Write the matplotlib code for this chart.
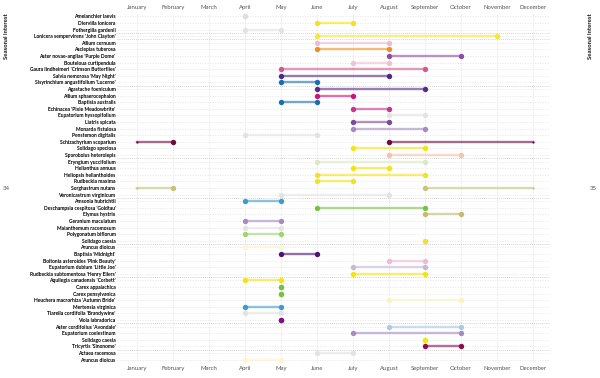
import matplotlib
matplotlib.use("Agg")
import matplotlib.pyplot as plt

months = ["January", "February", "March", "April", "May", "June", "July",
          "August", "September", "October", "November", "December"]

plants = [
    "Amelanchier laevis", "Diervilla lonicera", "Fothergilla gardenii",
    "Lonicera sempervirens 'John Clayton'", "Allium cernuum", "Asclepias tuberosa",
    "Aster novae-angliae 'Purple Dome'", "Bouteloua curtipendula",
    "Gaura lindheimeri 'Crimson Butterflies'", "Salvia nemorosa 'May Night'",
    "Sisyrinchium angustifolium 'Lucerne'", "Agastache foeniculum",
    "Allium sphaerocephalon", "Baptisia australis", "Echinacea 'Pixie Meadowbrite'",
    "Eupatorium hyssopifolium", "Liatris spicata", "Monarda fistulosa",
    "Penstemon digitalis", "Schizachyrium scoparium", "Solidago speciosa",
    "Sporobolus heterolepis", "Eryngium yuccifolium", "Helianthus annuus",
    "Heliopsis helianthoides", "Rudbeckia maxima", "Sorghastrum nutans",
    "Veronicastrum virginicum", "Amsonia hubrichtii", "Deschampsia cespitosa 'Goldtau'",
    "Elymus hystrix", "Geranium maculatum", "Maianthemum racemosum",
    "Polygonatum biflorum", "Solidago caesia", "Aruncus dioicus",
    "Baptisia 'Midnight'", "Boltonia asteroides 'Pink Beauty'",
    "Eupatorium dubium 'Little Joe'", "Rudbeckia subtomentosa 'Henry Eilers'",
    "Aquilegia canadensis 'Corbett'", "Carex appalachica", "Carex pensylvanica",
    "Heuchera macrorhiza 'Autumn Bride'", "Mertensia virginica",
    "Tiarella cordifolia 'Brandywine'", "Viola labradorica",
    "Aster cordifolius 'Avondale'", "Eupatorium coelestinum", "Solidago caesia",
    "Tricyrtis 'Sinonome'", "Actaea racemosa", "Aruncus dioicus",
]

# first and last month of interest (1 = January); start > end wraps over the new year
start = [4, 6, 4, 6, 6, 6, 8, 7, 5, 5, 5, 6, 6, 5, 7, 8, 7, 7, 4, 8, 7, 8, 6, 7, 6, 6, 9,
         5, 4, 6, 9, 4, 4, 4, 9, 4, 5, 8, 7, 7, 4, 5, 5, 8, 4, 4, 5, 8, 7, 9, 9, 6, 4]
end = [4, 7, 5, 11, 8, 8, 10, 8, 9, 8, 6, 9, 7, 6, 8, 9, 8, 9, 6, 2, 9, 10, 9, 8, 9, 7, 2,
       8, 5, 9, 10, 5, 5, 5, 9, 5, 6, 9, 9, 9, 5, 5, 5, 10, 5, 5, 5, 10, 10, 9, 10, 7, 5]

colors = [
    "#dedede", "#f5e31a", "#e3e3e3", "#f7e73a", "#f2b8d4", "#f0901e", "#8a4fa5",
    "#f5bfd6", "#d9558b", "#4b2a86", "#1b6fb0", "#5a2a86", "#c8167f", "#1b6fb0",
    "#c2378f", "#e3e3e3", "#7d4b9e", "#a48bc4", "#e3e3e3", "#6a0d3d", "#f5e31a",
    "#f7c2aa", "#dbe8c4", "#f5e31a", "#f5e31a", "#f5e31a", "#c5c47a", "#e3e3e3",
    "#3b9bd6", "#7ac043", "#c4bb72", "#a48bc4", "#e3e3e3", "#9ed47a", "#f5e31a",
    "#fbf6cf", "#4a1670", "#f2b8d4", "#c8b6db", "#f5e31a", "#f5e31a", "#7ac043",
    "#7ac043", "#fbf3c4", "#3b9bd6", "#e3e3e3", "#7b1577", "#a9cbe8", "#a48bc4",
    "#f5e31a", "#8c0a50", "#e3e3e3", "#fbf6cf",
]

# rows after which a darker separator line is drawn
separators = [2.5, 3.5, 10.5, 21.5, 27.5, 34.5, 39.5, 46.5, 50.5]

fig = plt.figure(figsize=(6, 3.78), dpi=100)
ax = fig.add_axes([117 / 600, 1 - 363 / 378, 433 / 600, 350 / 378])

n = len(plants)
rows = list(range(n))

for m in range(1, 13):
    ax.axvline(m, color="#e4e4e4", lw=0.6, ls=(0, (1.5, 1.5)), zorder=0)
for r in rows:
    ax.axhline(r, color="#e8e8e8", lw=0.6, ls=(0, (1.5, 1.5)), zorder=0)
for s in separators:
    ax.axhline(s, color="#c4c4c4", lw=0.6, ls=(0, (1, 1.5)), zorder=0)

dot = 15
small = 2.5
for r, s, e, c in zip(rows, start, end, colors):
    if s <= e:
        ax.plot([s, e], [r, r], color=c, lw=1.7, alpha=0.6, solid_capstyle="butt", zorder=2)
        ax.scatter([s, e], [r, r], s=dot, color=c, lw=0, zorder=3)
    else:
        ax.plot([s, 12], [r, r], color=c, lw=1.7, alpha=0.6, zorder=2)
        ax.plot([1, e], [r, r], color=c, lw=1.7, alpha=0.6, zorder=2)
        ax.scatter([s, e], [r, r], s=dot, color=c, lw=0, zorder=3)
        ax.scatter([12, 1], [r, r], s=small, color=c, lw=0, zorder=3)

ax.set_xlim(0.45, 12.47)
ax.set_ylim(n - 0.5, -0.5)
ax.set_xticks(range(1, 13))
ax.set_xticklabels(months, fontsize=4.3, color="#555555", family="Lato")
ax.set_yticks(rows)
ax.set_yticklabels(plants, fontsize=3.6, fontweight="bold", family="Lato", color="#000000")
ax.tick_params(axis="x", length=0, pad=2, labeltop=True, labelbottom=True)
ax.tick_params(axis="y", length=0, pad=1)
for sp in ax.spines.values():
    sp.set_visible(False)

fig.text(7 / 600, 1 - 36 / 378, "Seasonal interest", rotation=90, ha="center", va="center",
         fontsize=4.3, fontweight="bold", family="Lato", color="#111111")
fig.text(591 / 600, 1 - 36 / 378, "Seasonal interest", rotation=90, ha="center", va="center",
         fontsize=4.3, fontweight="bold", family="Lato", color="#111111")
fig.text(6 / 600, 1 - 188 / 378, "34", ha="center", va="center", fontsize=4.3,
         family="Lato", color="#555555")
fig.text(593 / 600, 1 - 188 / 378, "35", ha="center", va="center", fontsize=4.3,
         family="Lato", color="#555555")

fig.savefig("out.png", dpi=100, facecolor="white")
